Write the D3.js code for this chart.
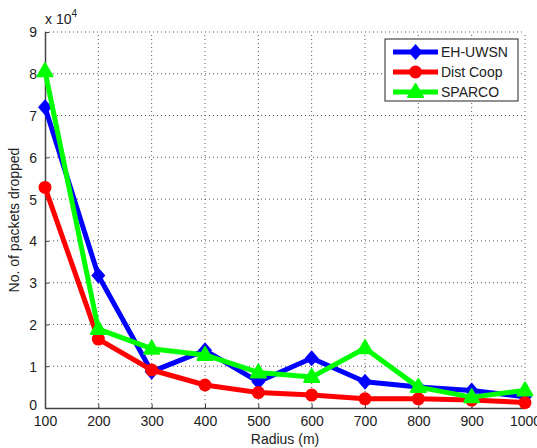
<!DOCTYPE html>
<html>
<head>
<meta charset="utf-8">
<script src="https://cdn.jsdelivr.net/npm/d3@7"></script>
<style>
  body { margin: 0; background: #fff; }
  text { font-family: "Liberation Sans", Arial, sans-serif; fill: #222; }
</style>
</head>
<body>
<script>
// radius values (m) and packets dropped (x 10^4)
const radius = [100, 200, 300, 400, 500, 600, 700, 800, 900, 1000];
const ehUwsn = [7.2, 3.17, 0.87, 1.38, 0.63, 1.19, 0.63, 0.5, 0.42, 0.27];
const distCoop = [5.28, 1.65, 0.91, 0.55, 0.37, 0.31, 0.22, 0.22, 0.19, 0.13];
const sparco = [8.06, 1.89, 1.42, 1.27, 0.85, 0.74, 1.43, 0.5, 0.26, 0.42];
const seriesNames = ["EH-UWSN", "Dist Coop", "SPARCO"];
const seriesColors = ["#0000ff", "#ff0000", "#00ff00"];
const seriesShapes = ["diamond", "circle", "triangle"];
const yTicks = [0, 1, 2, 3, 4, 5, 6, 7, 8, 9];

const width = 537, height = 448;
const margin = {left: 45, right: 12, top: 32, bottom: 40};

const svg = d3.select("body").append("svg")
  .attr("width", width)
  .attr("height", height);

const x = d3.scaleLinear().domain([100, 1000]).range([margin.left, width - margin.right]);
const y = d3.scaleLinear().domain([0, 9]).range([height - margin.bottom, margin.top]);

// grid
const grid = svg.append("g").attr("stroke", "#555").attr("stroke-dasharray", "1,3").attr("stroke-width", 1);
grid.selectAll(".gx").data(radius.slice(1)).enter().append("line")
  .attr("x1", d => x(d)).attr("x2", d => x(d))
  .attr("y1", y(0)).attr("y2", y(9));
grid.selectAll(".gy").data(yTicks.slice(1)).enter().append("line")
  .attr("x1", x(100)).attr("x2", x(1000))
  .attr("y1", d => y(d)).attr("y2", d => y(d));

// axes (inward ticks, matlab style)
const xAxis = d3.axisBottom(x).tickValues(radius).tickFormat(d3.format("d"))
  .tickSize(-4).tickPadding(8).tickSizeOuter(0);
const yAxis = d3.axisLeft(y).tickValues(yTicks).tickSize(-4).tickPadding(8).tickSizeOuter(0);

const gx = svg.append("g").attr("transform", `translate(0,${y(0)})`).call(xAxis);
const gy = svg.append("g").attr("transform", `translate(${x(100)},0)`).call(yAxis);
[gx, gy].forEach(g => {
  g.select(".domain").attr("stroke", "#444").attr("stroke-width", 1.5);
  g.selectAll(".tick line").attr("stroke", "#444");
  g.selectAll(".tick text").style("font-size", "14px").style("font-family", "Liberation Sans, Arial, sans-serif").attr("fill", "#222");
});
gy.selectAll(".tick text").attr("dy", d => d === 0 ? "0.1em" : "0.35em");

// lines
const series = [ehUwsn, distCoop, sparco];
const line = d3.line().x((d, i) => x(radius[i])).y(d => y(d));

function marker(g, shape, color, cx, cy) {
  if (shape === "circle") {
    g.append("circle").attr("cx", cx).attr("cy", cy).attr("r", 6.5).attr("fill", color);
  } else if (shape === "diamond") {
    g.append("path").attr("d", `M${cx},${cy-8}L${cx+7},${cy}L${cx},${cy+8}L${cx-7},${cy}Z`).attr("fill", color);
  } else {
    g.append("path").attr("d", `M${cx},${cy-8}L${cx+7.5},${cy+5}L${cx-7.5},${cy+5}Z`).attr("fill", color)
      .attr("stroke", color).attr("stroke-width", 2).attr("stroke-linejoin", "round");
  }
}

series.forEach((vals, s) => {
  const g = svg.append("g");
  g.append("path").datum(vals)
    .attr("d", line)
    .attr("fill", "none")
    .attr("stroke", seriesColors[s])
    .attr("stroke-width", 5)
    .attr("stroke-linejoin", "round");
  vals.forEach((v, i) => marker(g, seriesShapes[s], seriesColors[s], x(radius[i]), y(v)));
});

// labels
svg.append("text")
  .attr("x", (x(100) + x(1000)) / 2).attr("y", 444)
  .attr("text-anchor", "middle").style("font-size", "14px")
  .text("Radius (m)");

svg.append("text")
  .attr("transform", `translate(19,${(y(0) + y(9)) / 2}) rotate(-90)`)
  .attr("text-anchor", "middle").style("font-size", "14px")
  .text("No. of packets dropped");

const mult = svg.append("text").attr("x", 45).attr("y", 24).style("font-size", "14px");
mult.append("tspan").text("x 10");
mult.append("tspan").attr("dy", -7).style("font-size", "10px").text("4");

// legend
const legend = svg.append("g").attr("transform", "translate(385,39)");
legend.append("rect").attr("width", 133).attr("height", 62)
  .attr("fill", "#fff").attr("stroke", "#222").attr("stroke-width", 1);
seriesNames.forEach((name, i) => {
  const ly = 13 + i * 20;
  legend.append("line").attr("x1", 8).attr("x2", 53).attr("y1", ly).attr("y2", ly)
    .attr("stroke", seriesColors[i]).attr("stroke-width", 5);
  marker(legend, seriesShapes[i], seriesColors[i], 30.5, ly);
  legend.append("text").attr("x", 56).attr("y", ly + 5).style("font-size", "14px").text(name);
});
</script>
</body>
</html>
